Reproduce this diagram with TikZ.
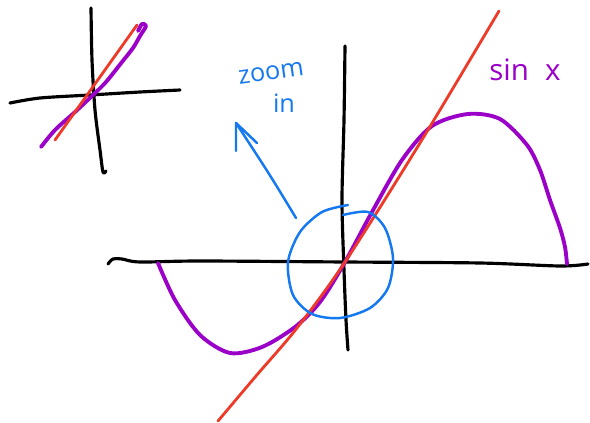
\documentclass[tikz,border=0pt]{standalone}
\usepackage{fontspec}
\setmainfont{Open Sans}
\definecolor{penred}{RGB}{238,58,40}
\definecolor{penpurple}{RGB}{155,0,200}
\definecolor{penblue}{RGB}{20,120,240}
\begin{document}
\begin{tikzpicture}[x=0.05cm,y=-0.05cm,
  axis/.style={black,line width=4.5pt,line cap=round,line join=round},
  redline/.style={penred,line width=4pt,line cap=round},
  sine/.style={penpurple,line width=5.5pt,line cap=round,line join=round},
  bluepen/.style={penblue,line width=3.5pt,line cap=round,line join=round},
  label/.style={inner sep=0pt,font=\fontsize{36}{36}\selectfont}]
\useasboundingbox (0,0) rectangle (590,423);
% inset
\draw[axis] plot[smooth] coordinates {(10,103) (40,98) (90,95) (140,92) (180,90)};
\draw[axis] plot[smooth] coordinates {(91,8) (92,60) (95,110) (100,150) (103,172) (106,171)};
\draw[sine] plot[smooth] coordinates {(41,147) (55,130) (75,112) (92,96) (106,82) (122,62) (133,48) (140,36) (146,26) (142,24) (138,31)};
\draw[redline] (55,140) -- (137,25);
% main axes
\draw[axis] plot[smooth] coordinates {(108,264) (113,259) (122,259) (140,262) (200,261) (345,262) (480,263) (560,266) (588,264)};
\draw[axis] plot[smooth] coordinates {(345,46) (344,120) (342,200) (344,270) (346,320) (348,350)};
% sine
\draw[sine] plot[smooth] coordinates {(158,263) (175,300) (200,335) (230,353) (262,347) (295,327) (320,302) (345,262) (372,212) (402,160) (432,126) (468,114) (500,119) (527,145) (540,170) (550,200) (560,228) (565,247) (567,264)};
% red line
\draw[redline] plot[smooth] coordinates {(218,421) (256,376) (297,328) (345,262) (420,143) (499,11)};
% blue zoom circle
\draw[bluepen] plot[smooth] coordinates {(348,205) (322,212) (300,232) (288,262) (293,295) (312,314) (340,318) (370,308) (388,288) (393,258) (385,228) (368,212) (343,215)};
% arrow
\coordinate (tail) at (296,218);
\coordinate (head) at (236,123);
\draw[bluepen] (tail) .. controls (270,175) .. (head);
\draw[bluepen] (236,151) -- (head) -- (257,143);
% labels
\node[label,text=penblue,rotate=8] (zoom) at (271,73) {zoom};
\node[label,text=penblue] (in) at (284,103) {in};
\node[label,text=penpurple,font=\fontsize{42}{42}\selectfont] (sinx) at (525,70) {sin\hspace{0.55em}x};
\end{tikzpicture}
\end{document}
